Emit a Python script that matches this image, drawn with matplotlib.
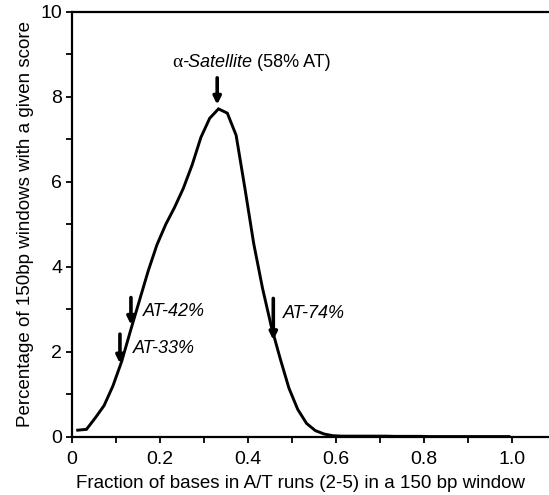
import numpy as np
import matplotlib
matplotlib.use('Agg')
import matplotlib.pyplot as plt
from matplotlib.ticker import MultipleLocator, FixedLocator

plt.rcParams['font.family'] = ['Liberation Sans', 'DejaVu Sans']

# Fraction of bases in A/T runs (bin centres) and percentage of windows
frac_at = [0.013, 0.033, 0.053, 0.073, 0.093, 0.113, 0.133, 0.153, 0.173, 0.193,
           0.213, 0.233, 0.253, 0.273, 0.293, 0.313, 0.333, 0.353, 0.373, 0.393,
           0.413, 0.433, 0.453, 0.473, 0.493, 0.513, 0.533, 0.553, 0.573, 0.593,
           0.613, 0.633, 0.653, 0.673, 0.693, 0.713, 0.733, 0.753, 0.773, 0.793,
           0.813, 0.833, 0.853, 0.873, 0.893, 0.913, 0.933, 0.953, 0.973, 0.993]
pct_windows = [0.16, 0.18, 0.45, 0.74, 1.2, 1.78, 2.5, 3.2, 3.9, 4.52,
               5.0, 5.4, 5.85, 6.4, 7.05, 7.5, 7.72, 7.62, 7.1, 5.85,
               4.55, 3.5, 2.6, 1.85, 1.15, 0.65, 0.32, 0.15, 0.07, 0.03,
               0.02, 0.02, 0.02, 0.02, 0.02, 0.02, 0.015, 0.015, 0.015, 0.015,
               0.01, 0.01, 0.01, 0.01, 0.01, 0.01, 0.01, 0.01, 0.01, 0.01]

# arrow markers: label, x, arrow top, arrow tip, label x, label y
arrow_labels = ['AT-33%', 'AT-42%', 'AT-74%']
arrow_x = [0.109, 0.134, 0.4575]
arrow_top = [2.42, 3.28, 3.26]
arrow_tip = [1.73, 2.64, 2.28]
label_x = [0.139, 0.162, 0.480]
label_y = [2.09, 2.95, 2.91]

fig = plt.figure(figsize=(5.49, 4.95), dpi=100)
ax = fig.add_axes([0.1311, 0.1172, 0.8689, 0.8586])

ax.plot(frac_at, pct_windows, color='black', lw=2.1, solid_joinstyle='miter')

ax.set_xlim(0, 1.084)
ax.set_ylim(0, 10)
ax.xaxis.set_major_locator(FixedLocator([0, 0.2, 0.4, 0.6, 0.8, 1.0]))
ax.set_xticklabels(['0', '0.2', '0.4', '0.6', '0.8', '1.0'])
ax.xaxis.set_minor_locator(FixedLocator([0.1, 0.3, 0.5, 0.7, 0.9]))
ax.yaxis.set_major_locator(MultipleLocator(2))
ax.yaxis.set_minor_locator(MultipleLocator(1))

ax.spines['right'].set_visible(False)
for s in ['left', 'bottom', 'top']:
    ax.spines[s].set_linewidth(1.6)
ax.tick_params(which='both', direction='out', length=4, width=1.3, labelsize=14)
ax.tick_params(axis='x', pad=6)
ax.tick_params(axis='y', pad=3)

ax.set_xlabel('Fraction of bases in A/T runs (2-5) in a 150 bp window', fontsize=13.5,
              labelpad=5, x=0.479)
ax.set_ylabel('Percentage of 150bp windows with a given score', fontsize=13.5, labelpad=5)

# small down arrows
for lab, xa, yt, yb, lx, ly in zip(arrow_labels, arrow_x, arrow_top, arrow_tip, label_x, label_y):
    ax.annotate('', xy=(xa, yb), xytext=(xa, yt),
                arrowprops=dict(arrowstyle='-|>', lw=2.6, color='black',
                                mutation_scale=11, shrinkA=0, shrinkB=0))
    ax.text(lx, ly, lab, fontsize=13, style='italic', va='center', ha='left')

# alpha-satellite peak arrow and label
ax.annotate('', xy=(0.330, 7.82), xytext=(0.330, 8.45),
            arrowprops=dict(arrowstyle='-|>', lw=2.6, color='black',
                            mutation_scale=11, shrinkA=0, shrinkB=0))
t1 = ax.text(0.227, 8.6, '\u03b1', family='Liberation Serif', fontsize=14, va='bottom', ha='left')
t2 = ax.annotate('-Satellite', xy=(1, 0), xycoords=t1, fontsize=13, style='italic',
                 va='bottom', ha='left')
t3 = ax.annotate(' (58% AT)', xy=(1, 0), xycoords=t2, fontsize=13, va='bottom', ha='left')

fig.savefig('out.png', dpi=100)
